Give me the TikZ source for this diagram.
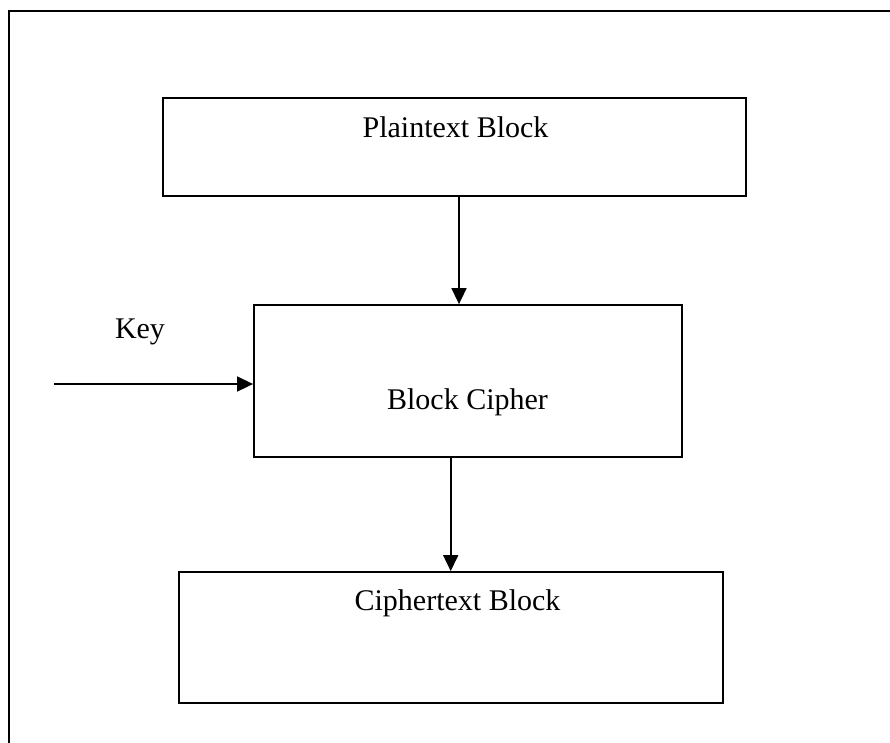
\documentclass[tikz,border=0pt]{standalone}
\usepackage{fontspec}
\setmainfont{Liberation Serif}
\usetikzlibrary{arrows.meta}
\begin{document}
\begin{tikzpicture}[x=1pt,y=-1pt,
  frameline/.style={line width=2pt,line cap=rect},
  box/.style={draw,line width=1.8pt,inner sep=0pt,rectangle},
  lbl/.style={inner sep=0pt,anchor=base,font=\fontsize{30}{36}\selectfont},
  arr/.style={line width=1.6pt,-{Triangle[length=16pt,width=15pt]}}]
\useasboundingbox (0,0) rectangle (890,742);
\coordinate (ftl) at (9,11);
\coordinate (ftr) at (890,11);
\coordinate (fbl) at (9,742);
\draw[frameline] (ftr) -- (ftl) -- (fbl);
\node[box,minimum width=583pt,minimum height=98pt] (pt) at (454.5,147) {};
\node[box,minimum width=428pt,minimum height=152pt] (bc) at (468,381) {};
\node[box,minimum width=544pt,minimum height=131pt] (ct) at (451,637.5) {};
\node[lbl] (ptt) at (455.5,137) {Plaintext Block};
\node[lbl] (bct) at (467.5,409) {Block Cipher};
\node[lbl] (ctt) at (457.5,610) {Ciphertext Block};
\node[lbl] (key) at (140,338) {Key};
\coordinate (a1) at (459,0);
\coordinate (a2) at (450.7,0);
\coordinate (ks) at (54,384);
\draw[arr] (pt.south -| a1) -- (bc.north -| a1);
\draw[arr] (bc.south -| a2) -- (ct.north -| a2);
\draw[arr] (ks) -- (ks -| bc.west);
\end{tikzpicture}
\end{document}
